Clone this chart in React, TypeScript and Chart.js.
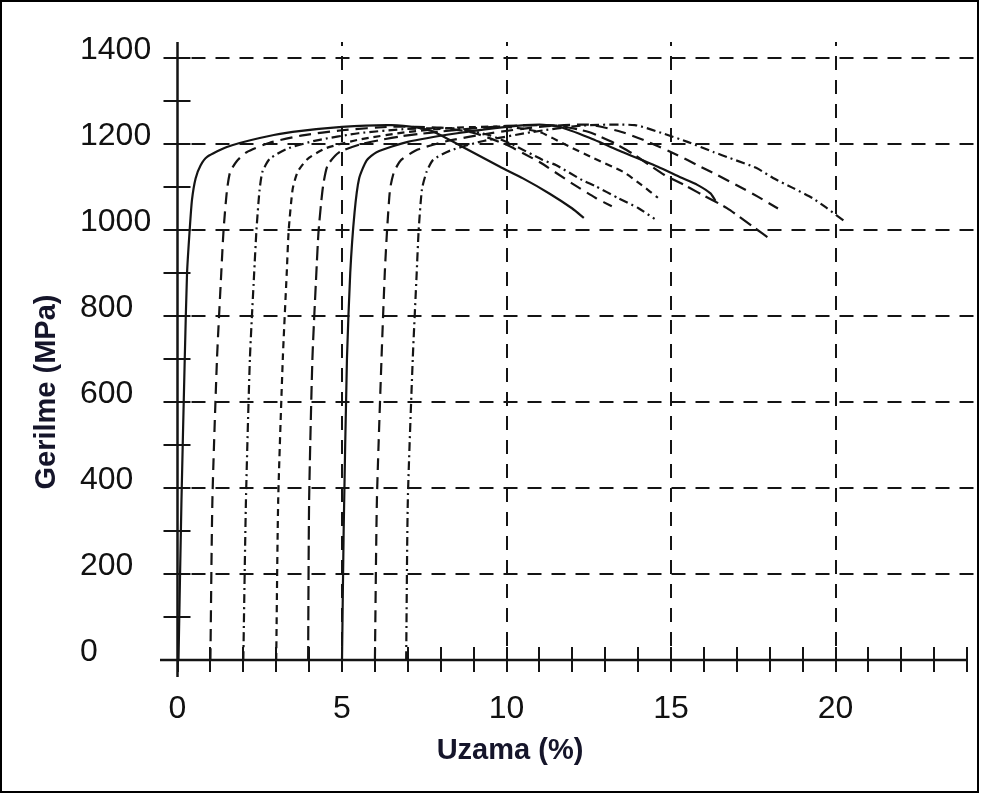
import React, { useEffect, useRef } from "react";
import { Chart, registerables } from "chart.js";

Chart.register(...registerables);

// ---- tick labels / titles ----
const xTickValues = [0, 5, 10, 15, 20];
const yTickValues = [0, 200, 400, 600, 800, 1000, 1200, 1400];
const xMinorMax = 24;
const yMinorStep = 100;
const xTitle = "Uzama (%)";
const yTitle = "Gerilme (MPa)";

// ---- curves: strain (%) and stress (MPa) ----
const strain0 = [0.03, 0.12, 0.22, 0.29, 0.37, 0.44, 0.55, 0.7, 0.9, 1.5, 2.5, 3.5, 5, 6.5, 7.3, 7.8, 8.8, 9.8, 10.5, 11.3, 12.0, 12.35];
const stress0 = [0, 370, 700, 900, 1000, 1070, 1120, 1150, 1170, 1193, 1214, 1228, 1240, 1244, 1238, 1228, 1188, 1147, 1120, 1085, 1050, 1028];

const strain1 = [1.0, 1.06, 1.2, 1.33, 1.4, 1.5, 1.6, 1.8, 2.1, 2.8, 3.8, 5, 6.5, 8, 9, 10, 11, 12, 12.7, 13.2];
const stress1 = [0, 370, 700, 900, 1000, 1090, 1135, 1160, 1181, 1203, 1220, 1232, 1240, 1238, 1226, 1198, 1158, 1108, 1075, 1055];

const strain2 = [2.0, 2.08, 2.2, 2.33, 2.4, 2.49, 2.58, 2.8, 3.3, 4.2, 5.5, 7, 8.5, 9.5, 10.2, 11.1, 11.5, 12.3, 12.7, 13.4, 14.0, 14.5];
const stress2 = [0, 370, 700, 900, 1000, 1090, 1135, 1165, 1188, 1208, 1225, 1235, 1236, 1220, 1198, 1163, 1151, 1116, 1102, 1074, 1051, 1026];

const strain3 = [3.0, 3.06, 3.2, 3.32, 3.38, 3.5, 3.65, 3.95, 4.5, 5.5, 7, 8.5, 10, 11, 11.8, 12.65, 13.55, 14.1, 14.6];
const stress3 = [0, 370, 700, 900, 1000, 1095, 1135, 1165, 1190, 1210, 1228, 1238, 1240, 1228, 1198, 1167, 1135, 1105, 1075];

const strain4 = [3.97, 4.0, 4.1, 4.22, 4.29, 4.42, 4.56, 4.9, 5.6, 6.8, 8.5, 10, 11.5, 12.5, 13.2, 13.8, 14.8, 15.4, 15.8, 16.7, 17.5, 18.05];
const stress4 = [0, 370, 700, 900, 1000, 1100, 1150, 1180, 1200, 1218, 1233, 1242, 1243, 1228, 1205, 1179, 1128, 1105, 1088, 1051, 1007, 977];

const strain5 = [5.0, 5.05, 5.15, 5.25, 5.38, 5.52, 5.75, 6.05, 7.0, 8.5, 10, 11, 11.6, 12.5, 13.5, 14.6, 15.3, 15.8, 16.2, 16.35];
const stress5 = [0, 300, 700, 900, 1040, 1120, 1162, 1181, 1205, 1225, 1240, 1245, 1240, 1215, 1182, 1147, 1122, 1105, 1085, 1068];

const strain6 = [6.0, 6.06, 6.2, 6.3, 6.37, 6.46, 6.58, 6.8, 7.3, 8.2, 9.5, 11, 12.5, 13.5, 14.3, 15.2, 15.8, 16.4, 17.1, 17.65, 18.25];
const stress6 = [0, 370, 700, 900, 1000, 1095, 1135, 1163, 1187, 1207, 1225, 1240, 1245, 1228, 1205, 1174, 1151, 1128, 1100, 1077, 1050];

const strain7 = [6.95, 7.0, 7.15, 7.27, 7.33, 7.43, 7.57, 7.77, 8.3, 9.3, 10.8, 12.3, 13.9, 14.7, 15.5, 16.3, 16.8, 17.6, 18.1, 18.7, 19.3, 19.7, 20.3];
const stress7 = [0, 370, 700, 900, 1000, 1095, 1135, 1163, 1185, 1207, 1228, 1243, 1244, 1226, 1205, 1181, 1167, 1144, 1121, 1098, 1074, 1053, 1019];

const curveStrains = [strain0, strain1, strain2, strain3, strain4, strain5, strain6, strain7];
const curveStresses = [stress0, stress1, stress2, stress3, stress4, stress5, stress6, stress7];
const curveDashes: number[][] = [
  [],
  [12, 7],
  [9, 4, 2, 4],
  [7, 5],
  [14, 6],
  [],
  [12, 7],
  [9, 4, 2, 4],
];

const INK = "#141414";
const FONT = '"Liberation Sans", Arial, Helvetica, sans-serif';

const paperPlugin = {
  id: "paperAxes",
  beforeDatasetsDraw(chart: any) {
    const { ctx, chartArea, scales } = chart;
    const xs = scales.x;
    const ys = scales.y;
    const x0 = xs.getPixelForValue(0);
    const y0 = ys.getPixelForValue(0);
    ctx.save();
    ctx.strokeStyle = INK;
    ctx.lineWidth = 2;
    ctx.setLineDash([14, 10]);
    ctx.beginPath();
    for (const v of yTickValues) {
      if (v === 0) continue;
      const py = Math.round(ys.getPixelForValue(v));
      ctx.moveTo(x0 + 14, py);
      ctx.lineTo(chartArea.right, py);
    }
    for (const v of xTickValues) {
      if (v === 0) continue;
      const px = Math.round(xs.getPixelForValue(v));
      ctx.moveTo(px, y0 - 14);
      ctx.lineTo(px, chartArea.top);
    }
    ctx.stroke();
    ctx.setLineDash([]);
    // axes
    ctx.lineWidth = 2.5;
    ctx.beginPath();
    ctx.moveTo(chartArea.left, y0);
    ctx.lineTo(xs.getPixelForValue(xMinorMax), y0);
    ctx.moveTo(x0, chartArea.bottom);
    ctx.lineTo(x0, chartArea.top);
    ctx.stroke();
    // minor ticks
    ctx.lineWidth = 2;
    ctx.beginPath();
    for (let v = 0; v <= xMinorMax; v++) {
      const px = Math.round(xs.getPixelForValue(v));
      ctx.moveTo(px, y0 - 13);
      ctx.lineTo(px, y0 + 12);
    }
    for (let v = yMinorStep; v <= 1400; v += yMinorStep) {
      const py = Math.round(ys.getPixelForValue(v));
      ctx.moveTo(x0 - 14, py);
      ctx.lineTo(x0 + 13, py);
    }
    ctx.stroke();
    ctx.restore();
  },
  afterDraw(chart: any) {
    const { ctx } = chart;
    ctx.save();
    ctx.fillStyle = "#15152a";
    ctx.font = `bold 29px ${FONT}`;
    ctx.textAlign = "center";
    ctx.textBaseline = "middle";
    ctx.fillText(xTitle, 510, 751);
    ctx.translate(47, 392);
    ctx.rotate(-Math.PI / 2);
    ctx.fillText(yTitle, 0, 0);
    ctx.restore();
    ctx.save();
    ctx.strokeStyle = "#000";
    ctx.lineWidth = 2;
    ctx.strokeRect(1, 1, 977, 791);
    ctx.restore();
  },
};

export default function App() {
  const ref = useRef<HTMLCanvasElement | null>(null);

  useEffect(() => {
    document.body.style.margin = "0";
    document.body.style.background = "#fff";
    const canvas = ref.current;
    if (!canvas) return;
    const datasets = curveStrains.map((xsArr, i) => ({
      label: `curve ${i}`,
      data: xsArr.map((x, j) => ({ x, y: curveStresses[i][j] })),
      borderColor: INK,
      borderWidth: 2.2,
      borderDash: curveDashes[i],
      pointRadius: 0,
      tension: 0.2,
      fill: false,
    }));
    const chart = new Chart(canvas, {
      type: "line",
      data: { datasets },
      options: {
        animation: false,
        responsive: false,
        maintainAspectRatio: false,
        devicePixelRatio: 1,
        layout: { padding: { left: 80, right: 3, top: 42, bottom: 0 } },
        plugins: { legend: { display: false }, tooltip: { enabled: false } },
        scales: {
          x: {
            type: "linear",
            min: -0.532,
            max: 24.33,
            grid: { display: false, drawTicks: false },
            border: { display: false },
            afterBuildTicks: (s: any) => {
              s.ticks = xTickValues.map((v) => ({ value: v }));
            },
            afterFit: (s: any) => {
              s.height = 119;
            },
            ticks: {
              padding: 13,
              maxRotation: 0,
              autoSkip: false,
              color: "#111",
              font: { size: 32, family: FONT },
              callback: (v: any) => String(v),
            },
          },
          y: {
            type: "linear",
            min: -39.5,
            max: 1437.2,
            grid: { display: false, drawTicks: false },
            border: { display: false },
            afterBuildTicks: (s: any) => {
              s.ticks = yTickValues.map((v) => ({ value: v }));
            },
            afterFit: (s: any) => {
              s.width = 80;
            },
            ticks: {
              crossAlign: "far",
              labelOffset: -8,
              autoSkip: false,
              color: "#111",
              font: { size: 32, family: FONT },
              callback: (v: any) => String(v),
            },
          },
        },
      } as any,
      plugins: [paperPlugin],
    });
    return () => chart.destroy();
  }, []);

  return (
    <div style={{ position: "fixed", left: 0, top: 0, width: 981, height: 796, background: "#fff" }}>
      <canvas ref={ref} width={981} height={796} style={{ display: "block" }} />
    </div>
  );
}
